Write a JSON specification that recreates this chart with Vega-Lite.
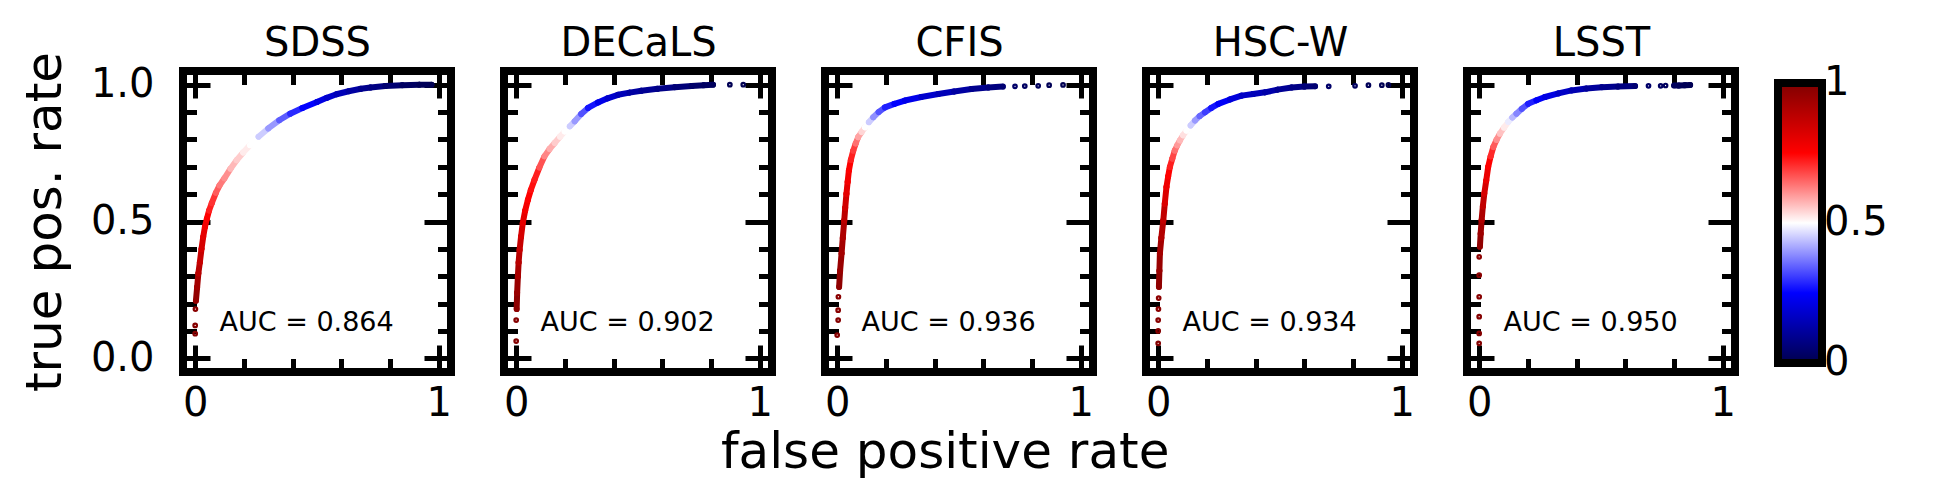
{
  "$schema": "https://vega.github.io/schema/vega-lite/v6.json",
  "background": "white",
  "padding": {"left": 16, "top": 19, "right": 5, "bottom": 5},
  "datasets": {
    "roc": [
      {"s":"SDSS","r":0,"x":0.0,"y":0.09,"t":0.995},
      {"s":"SDSS","r":0,"x":0.0,"y":0.12,"t":0.99},
      {"s":"SDSS","r":0,"x":0.001,"y":0.18,"t":0.98},
      {"s":"SDSS","r":1,"x":0.003,"y":0.21,"t":0.96},
      {"s":"SDSS","r":1,"x":0.008,"y":0.26,"t":0.93},
      {"s":"SDSS","r":1,"x":0.013,"y":0.31,"t":0.89},
      {"s":"SDSS","r":1,"x":0.019,"y":0.35,"t":0.86},
      {"s":"SDSS","r":1,"x":0.026,"y":0.40,"t":0.83},
      {"s":"SDSS","r":1,"x":0.033,"y":0.444,"t":0.80},
      {"s":"SDSS","r":1,"x":0.040,"y":0.48,"t":0.77},
      {"s":"SDSS","r":1,"x":0.048,"y":0.51,"t":0.75},
      {"s":"SDSS","r":1,"x":0.057,"y":0.54,"t":0.72},
      {"s":"SDSS","r":1,"x":0.068,"y":0.567,"t":0.70},
      {"s":"SDSS","r":1,"x":0.085,"y":0.605,"t":0.66},
      {"s":"SDSS","r":1,"x":0.10,"y":0.632,"t":0.63},
      {"s":"SDSS","r":1,"x":0.12,"y":0.658,"t":0.61},
      {"s":"SDSS","r":1,"x":0.145,"y":0.693,"t":0.57},
      {"s":"SDSS","r":1,"x":0.17,"y":0.724,"t":0.55},
      {"s":"SDSS","r":1,"x":0.197,"y":0.752,"t":0.52},
      {"s":"SDSS","r":1,"x":0.225,"y":0.779,"t":0.50},
      {"s":"SDSS","r":1,"x":0.26,"y":0.81,"t":0.45},
      {"s":"SDSS","r":1,"x":0.30,"y":0.84,"t":0.40},
      {"s":"SDSS","r":1,"x":0.345,"y":0.87,"t":0.34},
      {"s":"SDSS","r":1,"x":0.39,"y":0.894,"t":0.29},
      {"s":"SDSS","r":1,"x":0.44,"y":0.915,"t":0.25},
      {"s":"SDSS","r":1,"x":0.50,"y":0.937,"t":0.21},
      {"s":"SDSS","r":1,"x":0.54,"y":0.952,"t":0.18},
      {"s":"SDSS","r":1,"x":0.58,"y":0.965,"t":0.15},
      {"s":"SDSS","r":1,"x":0.63,"y":0.976,"t":0.12},
      {"s":"SDSS","r":1,"x":0.68,"y":0.985,"t":0.09},
      {"s":"SDSS","r":1,"x":0.72,"y":0.99,"t":0.075},
      {"s":"SDSS","r":1,"x":0.78,"y":0.995,"t":0.05},
      {"s":"SDSS","r":1,"x":0.85,"y":0.998,"t":0.03},
      {"s":"SDSS","r":1,"x":0.92,"y":1.0,"t":0.015},
      {"s":"SDSS","r":1,"x":0.97,"y":1.0,"t":0.005},

      {"s":"DECaLS","r":0,"x":0.0,"y":0.063,"t":0.995},
      {"s":"DECaLS","r":0,"x":0.0,"y":0.14,"t":0.99},
      {"s":"DECaLS","r":1,"x":0.002,"y":0.18,"t":0.975},
      {"s":"DECaLS","r":1,"x":0.004,"y":0.24,"t":0.95},
      {"s":"DECaLS","r":1,"x":0.007,"y":0.30,"t":0.92},
      {"s":"DECaLS","r":1,"x":0.010,"y":0.35,"t":0.89},
      {"s":"DECaLS","r":1,"x":0.014,"y":0.396,"t":0.86},
      {"s":"DECaLS","r":1,"x":0.020,"y":0.445,"t":0.83},
      {"s":"DECaLS","r":1,"x":0.027,"y":0.494,"t":0.80},
      {"s":"DECaLS","r":1,"x":0.037,"y":0.54,"t":0.77},
      {"s":"DECaLS","r":1,"x":0.048,"y":0.579,"t":0.75},
      {"s":"DECaLS","r":1,"x":0.060,"y":0.615,"t":0.735},
      {"s":"DECaLS","r":1,"x":0.075,"y":0.652,"t":0.72},
      {"s":"DECaLS","r":1,"x":0.095,"y":0.697,"t":0.67},
      {"s":"DECaLS","r":1,"x":0.116,"y":0.738,"t":0.62},
      {"s":"DECaLS","r":1,"x":0.137,"y":0.765,"t":0.58},
      {"s":"DECaLS","r":1,"x":0.158,"y":0.787,"t":0.55},
      {"s":"DECaLS","r":1,"x":0.18,"y":0.81,"t":0.52},
      {"s":"DECaLS","r":1,"x":0.199,"y":0.829,"t":0.50},
      {"s":"DECaLS","r":1,"x":0.22,"y":0.848,"t":0.45},
      {"s":"DECaLS","r":1,"x":0.24,"y":0.866,"t":0.40},
      {"s":"DECaLS","r":1,"x":0.267,"y":0.893,"t":0.33},
      {"s":"DECaLS","r":1,"x":0.295,"y":0.915,"t":0.27},
      {"s":"DECaLS","r":1,"x":0.336,"y":0.935,"t":0.22},
      {"s":"DECaLS","r":1,"x":0.375,"y":0.95,"t":0.18},
      {"s":"DECaLS","r":1,"x":0.418,"y":0.963,"t":0.15},
      {"s":"DECaLS","r":1,"x":0.465,"y":0.971,"t":0.12},
      {"s":"DECaLS","r":1,"x":0.514,"y":0.978,"t":0.10},
      {"s":"DECaLS","r":1,"x":0.58,"y":0.985,"t":0.08},
      {"s":"DECaLS","r":1,"x":0.651,"y":0.991,"t":0.06},
      {"s":"DECaLS","r":1,"x":0.72,"y":0.995,"t":0.04},
      {"s":"DECaLS","r":1,"x":0.77,"y":0.998,"t":0.03},
      {"s":"DECaLS","r":1,"x":0.808,"y":1.0,"t":0.02},
      {"s":"DECaLS","r":0,"x":0.877,"y":1.0,"t":0.01},
      {"s":"DECaLS","r":0,"x":0.932,"y":1.0,"t":0.005},

      {"s":"CFIS","r":0,"x":0.0,"y":0.085,"t":0.995},
      {"s":"CFIS","r":0,"x":0.004,"y":0.14,"t":0.99},
      {"s":"CFIS","r":0,"x":0.004,"y":0.176,"t":0.985},
      {"s":"CFIS","r":0,"x":0.005,"y":0.225,"t":0.98},
      {"s":"CFIS","r":1,"x":0.008,"y":0.261,"t":0.97},
      {"s":"CFIS","r":1,"x":0.012,"y":0.32,"t":0.95},
      {"s":"CFIS","r":1,"x":0.018,"y":0.383,"t":0.93},
      {"s":"CFIS","r":1,"x":0.023,"y":0.44,"t":0.91},
      {"s":"CFIS","r":1,"x":0.029,"y":0.504,"t":0.88},
      {"s":"CFIS","r":1,"x":0.033,"y":0.55,"t":0.84},
      {"s":"CFIS","r":1,"x":0.038,"y":0.601,"t":0.80},
      {"s":"CFIS","r":1,"x":0.043,"y":0.645,"t":0.77},
      {"s":"CFIS","r":1,"x":0.048,"y":0.686,"t":0.75},
      {"s":"CFIS","r":1,"x":0.056,"y":0.725,"t":0.72},
      {"s":"CFIS","r":1,"x":0.066,"y":0.759,"t":0.69},
      {"s":"CFIS","r":1,"x":0.076,"y":0.785,"t":0.64},
      {"s":"CFIS","r":1,"x":0.086,"y":0.808,"t":0.59},
      {"s":"CFIS","r":1,"x":0.10,"y":0.827,"t":0.54},
      {"s":"CFIS","r":1,"x":0.114,"y":0.844,"t":0.50},
      {"s":"CFIS","r":1,"x":0.13,"y":0.863,"t":0.45},
      {"s":"CFIS","r":1,"x":0.148,"y":0.881,"t":0.39},
      {"s":"CFIS","r":1,"x":0.17,"y":0.90,"t":0.33},
      {"s":"CFIS","r":1,"x":0.196,"y":0.917,"t":0.28},
      {"s":"CFIS","r":1,"x":0.235,"y":0.93,"t":0.25},
      {"s":"CFIS","r":1,"x":0.278,"y":0.942,"t":0.22},
      {"s":"CFIS","r":1,"x":0.345,"y":0.955,"t":0.18},
      {"s":"CFIS","r":1,"x":0.415,"y":0.966,"t":0.15},
      {"s":"CFIS","r":1,"x":0.48,"y":0.975,"t":0.12},
      {"s":"CFIS","r":1,"x":0.551,"y":0.984,"t":0.09},
      {"s":"CFIS","r":1,"x":0.62,"y":0.99,"t":0.07},
      {"s":"CFIS","r":1,"x":0.68,"y":0.993,"t":0.05},
      {"s":"CFIS","r":0,"x":0.73,"y":0.994,"t":0.04},
      {"s":"CFIS","r":0,"x":0.77,"y":0.995,"t":0.03},
      {"s":"CFIS","r":0,"x":0.825,"y":0.996,"t":0.02},
      {"s":"CFIS","r":0,"x":0.87,"y":0.998,"t":0.012},
      {"s":"CFIS","r":0,"x":0.927,"y":0.999,"t":0.005},

      {"s":"HSC-W","r":0,"x":0.0,"y":0.055,"t":0.995},
      {"s":"HSC-W","r":0,"x":0.0,"y":0.10,"t":0.99},
      {"s":"HSC-W","r":0,"x":0.0,"y":0.14,"t":0.985},
      {"s":"HSC-W","r":0,"x":0.001,"y":0.18,"t":0.98},
      {"s":"HSC-W","r":0,"x":0.002,"y":0.22,"t":0.975},
      {"s":"HSC-W","r":1,"x":0.003,"y":0.261,"t":0.97},
      {"s":"HSC-W","r":1,"x":0.005,"y":0.32,"t":0.95},
      {"s":"HSC-W","r":1,"x":0.007,"y":0.383,"t":0.93},
      {"s":"HSC-W","r":1,"x":0.013,"y":0.44,"t":0.90},
      {"s":"HSC-W","r":1,"x":0.021,"y":0.504,"t":0.87},
      {"s":"HSC-W","r":1,"x":0.027,"y":0.565,"t":0.82},
      {"s":"HSC-W","r":1,"x":0.034,"y":0.626,"t":0.78},
      {"s":"HSC-W","r":1,"x":0.041,"y":0.665,"t":0.75},
      {"s":"HSC-W","r":1,"x":0.048,"y":0.699,"t":0.72},
      {"s":"HSC-W","r":1,"x":0.058,"y":0.73,"t":0.68},
      {"s":"HSC-W","r":1,"x":0.068,"y":0.759,"t":0.64},
      {"s":"HSC-W","r":1,"x":0.078,"y":0.778,"t":0.60},
      {"s":"HSC-W","r":1,"x":0.089,"y":0.796,"t":0.57},
      {"s":"HSC-W","r":1,"x":0.102,"y":0.815,"t":0.53},
      {"s":"HSC-W","r":1,"x":0.116,"y":0.832,"t":0.50},
      {"s":"HSC-W","r":1,"x":0.133,"y":0.851,"t":0.45},
      {"s":"HSC-W","r":1,"x":0.151,"y":0.869,"t":0.40},
      {"s":"HSC-W","r":1,"x":0.17,"y":0.885,"t":0.35},
      {"s":"HSC-W","r":1,"x":0.192,"y":0.899,"t":0.31},
      {"s":"HSC-W","r":1,"x":0.218,"y":0.915,"t":0.27},
      {"s":"HSC-W","r":1,"x":0.247,"y":0.93,"t":0.24},
      {"s":"HSC-W","r":1,"x":0.295,"y":0.946,"t":0.20},
      {"s":"HSC-W","r":1,"x":0.342,"y":0.96,"t":0.17},
      {"s":"HSC-W","r":1,"x":0.39,"y":0.966,"t":0.15},
      {"s":"HSC-W","r":1,"x":0.438,"y":0.972,"t":0.13},
      {"s":"HSC-W","r":1,"x":0.49,"y":0.982,"t":0.10},
      {"s":"HSC-W","r":1,"x":0.548,"y":0.99,"t":0.08},
      {"s":"HSC-W","r":1,"x":0.60,"y":0.993,"t":0.06},
      {"s":"HSC-W","r":1,"x":0.644,"y":0.994,"t":0.05},
      {"s":"HSC-W","r":0,"x":0.70,"y":0.994,"t":0.04},
      {"s":"HSC-W","r":0,"x":0.808,"y":0.996,"t":0.025},
      {"s":"HSC-W","r":0,"x":0.863,"y":0.998,"t":0.015},
      {"s":"HSC-W","r":0,"x":0.918,"y":0.998,"t":0.01},
      {"s":"HSC-W","r":0,"x":0.945,"y":0.999,"t":0.005},

      {"s":"LSST","r":0,"x":0.0,"y":0.055,"t":0.995},
      {"s":"LSST","r":0,"x":0.0,"y":0.091,"t":0.993},
      {"s":"LSST","r":0,"x":0.0,"y":0.152,"t":0.99},
      {"s":"LSST","r":0,"x":0.0,"y":0.225,"t":0.985},
      {"s":"LSST","r":0,"x":0.0,"y":0.304,"t":0.98},
      {"s":"LSST","r":0,"x":0.0,"y":0.371,"t":0.975},
      {"s":"LSST","r":1,"x":0.003,"y":0.408,"t":0.965},
      {"s":"LSST","r":1,"x":0.006,"y":0.455,"t":0.94},
      {"s":"LSST","r":1,"x":0.010,"y":0.505,"t":0.91},
      {"s":"LSST","r":1,"x":0.015,"y":0.555,"t":0.87},
      {"s":"LSST","r":1,"x":0.021,"y":0.602,"t":0.83},
      {"s":"LSST","r":1,"x":0.029,"y":0.65,"t":0.79},
      {"s":"LSST","r":1,"x":0.037,"y":0.70,"t":0.75},
      {"s":"LSST","r":1,"x":0.047,"y":0.738,"t":0.71},
      {"s":"LSST","r":1,"x":0.058,"y":0.772,"t":0.66},
      {"s":"LSST","r":1,"x":0.071,"y":0.798,"t":0.61},
      {"s":"LSST","r":1,"x":0.085,"y":0.821,"t":0.56},
      {"s":"LSST","r":1,"x":0.102,"y":0.843,"t":0.52},
      {"s":"LSST","r":1,"x":0.119,"y":0.864,"t":0.48},
      {"s":"LSST","r":1,"x":0.136,"y":0.88,"t":0.43},
      {"s":"LSST","r":1,"x":0.153,"y":0.894,"t":0.38},
      {"s":"LSST","r":1,"x":0.175,"y":0.912,"t":0.33},
      {"s":"LSST","r":1,"x":0.201,"y":0.93,"t":0.28},
      {"s":"LSST","r":1,"x":0.235,"y":0.943,"t":0.24},
      {"s":"LSST","r":1,"x":0.27,"y":0.955,"t":0.21},
      {"s":"LSST","r":1,"x":0.325,"y":0.968,"t":0.17},
      {"s":"LSST","r":1,"x":0.379,"y":0.979,"t":0.14},
      {"s":"LSST","r":1,"x":0.44,"y":0.986,"t":0.11},
      {"s":"LSST","r":1,"x":0.503,"y":0.991,"t":0.09},
      {"s":"LSST","r":1,"x":0.57,"y":0.993,"t":0.07},
      {"s":"LSST","r":1,"x":0.64,"y":0.995,"t":0.05},
      {"s":"LSST","r":0,"x":0.695,"y":0.996,"t":0.04},
      {"s":"LSST","r":0,"x":0.745,"y":0.996,"t":0.03},
      {"s":"LSST","r":0,"x":0.765,"y":0.997,"t":0.025},
      {"s":"LSST","r":2,"x":0.80,"y":0.997,"t":0.02},
      {"s":"LSST","r":2,"x":0.82,"y":0.997,"t":0.017},
      {"s":"LSST","r":2,"x":0.845,"y":0.998,"t":0.013},
      {"s":"LSST","r":2,"x":0.866,"y":0.999,"t":0.01}
    ],
    "auc": [
      {"s":"SDSS","auc":0.864},
      {"s":"DECaLS","auc":0.902},
      {"s":"CFIS","auc":0.936},
      {"s":"HSC-W","auc":0.934},
      {"s":"LSST","auc":0.950}
    ]
  },
  "title": {"text": "false positive rate", "orient": "bottom", "anchor": "middle", "frame": "bounds", "dx": -7, "fontSize": 50, "fontWeight": "normal", "font": "DejaVu Sans", "color": "black", "offset": 1},
  "hconcat": [
    {
      "width": 268, "height": 301,
      "resolve": {"axis": {"x": "independent", "y": "independent"}},
      "layer": [
        {
          "data": {"name": "roc"},
          "transform": [
            {"filter": "datum.s == 'SDSS' && datum.r > 0"},
            {"window": [{"op": "lead", "field": "x", "as": "x2"}, {"op": "lead", "field": "y", "as": "y2"}], "sort": [{"field": "t", "order": "descending"}], "groupby": ["r"]},
            {"filter": "isValid(datum.x2)"}
          ],
          "mark": {"type": "rule", "strokeWidth": 6, "strokeCap": "round"},
          "encoding": {
            "x": {"field": "x", "type": "quantitative", "scale": {"domain": [-0.05, 1.05], "nice": false, "zero": false},
                  "axis": {"orient": "bottom", "title": null, "values": [0, 0.2, 0.4, 0.6, 0.8, 1], "format": "~g", "labelExpr": "datum.value == 0 || datum.value == 1 ? datum.label : ''", "tickSize": {"condition": {"test": "datum.value == 0 || datum.value == 1", "value": -27}, "value": -13.5}, "labelPadding": 38}},
            "y": {"field": "y", "type": "quantitative", "scale": {"domain": [-0.05, 1.05], "nice": false, "zero": false},
                  "axis": {"orient": "left", "title": "true pos. rate", "values": [0, 0.1, 0.2, 0.3, 0.4, 0.5, 0.6, 0.7, 0.8, 0.9, 1], "labelExpr": "datum.value == 0 || datum.value == 0.5 || datum.value == 1 ? format(datum.value, '.1f') : ''", "tickSize": {"condition": {"test": "datum.value == 0 || datum.value == 0.5 || datum.value == 1", "value": -27}, "value": -13.5}, "labelPadding": 56, "titlePadding": 20}},
            "x2": {"field": "x2"}, "y2": {"field": "y2"},
            "color": {"field": "t", "type": "quantitative", "scale": {"domain": [0, 0.25, 0.5, 0.75, 1], "range": ["#00004d", "#0000ff", "#ffffff", "#ff0000", "#800000"], "interpolate": "rgb"}, "legend": {"type": "gradient", "title": null, "values": [0, 0.5, 1], "format": "~g", "encode": {"labels": {"update": {"baseline": {"value": "middle"}}}}}}
          }
        },
        {
          "data": {"name": "roc"},
          "transform": [{"filter": "datum.s == 'SDSS'"}],
          "mark": {"type": "point", "filled": false, "shape": "circle", "size": 5, "strokeWidth": 3.5, "opacity": 1},
          "encoding": {
            "x": {"field": "x", "type": "quantitative", "axis": {"orient": "top", "title": "SDSS", "labels": false, "values": [0, 0.2, 0.4, 0.6, 0.8, 1], "tickSize": {"condition": {"test": "datum.value == 0 || datum.value == 1", "value": -27}, "value": -13.5}}},
            "y": {"field": "y", "type": "quantitative", "axis": {"orient": "right", "title": null, "labels": false, "values": [0, 0.1, 0.2, 0.3, 0.4, 0.5, 0.6, 0.7, 0.8, 0.9, 1], "tickSize": {"condition": {"test": "datum.value == 0 || datum.value == 0.5 || datum.value == 1", "value": -27}, "value": -13.5}}},
            "color": {"field": "t", "type": "quantitative", "legend": {"type": "gradient", "title": null, "values": [0, 0.5, 1], "format": "~g", "encode": {"labels": {"update": {"baseline": {"value": "middle"}}}}}}
          }
        },
        {
          "data": {"name": "auc"},
          "transform": [{"filter": "datum.s == 'SDSS'"}, {"calculate": "'AUC = ' + format(datum.auc, '.3f')", "as": "label"}],
          "mark": {"type": "text", "align": "left", "baseline": "alphabetic", "fontSize": 27, "font": "DejaVu Sans", "color": "black"},
          "encoding": {
            "x": {"datum": 0.1, "type": "quantitative", "axis": null},
            "y": {"datum": 0.1, "type": "quantitative", "axis": null},
            "text": {"field": "label"}
          }
        }
      ]
    },
    {
      "width": 268, "height": 301,
      "resolve": {"axis": {"x": "independent", "y": "independent"}},
      "layer": [
        {
          "data": {"name": "roc"},
          "transform": [
            {"filter": "datum.s == 'DECaLS' && datum.r > 0"},
            {"window": [{"op": "lead", "field": "x", "as": "x2"}, {"op": "lead", "field": "y", "as": "y2"}], "sort": [{"field": "t", "order": "descending"}], "groupby": ["r"]},
            {"filter": "isValid(datum.x2)"}
          ],
          "mark": {"type": "rule", "strokeWidth": 6, "strokeCap": "round"},
          "encoding": {
            "x": {"field": "x", "type": "quantitative", "scale": {"domain": [-0.05, 1.05], "nice": false, "zero": false},
                  "axis": {"orient": "bottom", "title": null, "values": [0, 0.2, 0.4, 0.6, 0.8, 1], "format": "~g", "labelExpr": "datum.value == 0 || datum.value == 1 ? datum.label : ''", "tickSize": {"condition": {"test": "datum.value == 0 || datum.value == 1", "value": -27}, "value": -13.5}, "labelPadding": 38}},
            "y": {"field": "y", "type": "quantitative", "scale": {"domain": [-0.05, 1.05], "nice": false, "zero": false},
                  "axis": {"orient": "left", "title": null, "labels": false, "values": [0, 0.1, 0.2, 0.3, 0.4, 0.5, 0.6, 0.7, 0.8, 0.9, 1], "tickSize": {"condition": {"test": "datum.value == 0 || datum.value == 0.5 || datum.value == 1", "value": -27}, "value": -13.5}}},
            "x2": {"field": "x2"}, "y2": {"field": "y2"},
            "color": {"field": "t", "type": "quantitative", "legend": {"type": "gradient", "title": null, "values": [0, 0.5, 1], "format": "~g", "encode": {"labels": {"update": {"baseline": {"value": "middle"}}}}}}
          }
        },
        {
          "data": {"name": "roc"},
          "transform": [{"filter": "datum.s == 'DECaLS'"}],
          "mark": {"type": "point", "filled": false, "shape": "circle", "size": 5, "strokeWidth": 3.5, "opacity": 1},
          "encoding": {
            "x": {"field": "x", "type": "quantitative", "axis": {"orient": "top", "title": "DECaLS", "labels": false, "values": [0, 0.2, 0.4, 0.6, 0.8, 1], "tickSize": {"condition": {"test": "datum.value == 0 || datum.value == 1", "value": -27}, "value": -13.5}}},
            "y": {"field": "y", "type": "quantitative", "axis": {"orient": "right", "title": null, "labels": false, "values": [0, 0.1, 0.2, 0.3, 0.4, 0.5, 0.6, 0.7, 0.8, 0.9, 1], "tickSize": {"condition": {"test": "datum.value == 0 || datum.value == 0.5 || datum.value == 1", "value": -27}, "value": -13.5}}},
            "color": {"field": "t", "type": "quantitative", "legend": {"type": "gradient", "title": null, "values": [0, 0.5, 1], "format": "~g", "encode": {"labels": {"update": {"baseline": {"value": "middle"}}}}}}
          }
        },
        {
          "data": {"name": "auc"},
          "transform": [{"filter": "datum.s == 'DECaLS'"}, {"calculate": "'AUC = ' + format(datum.auc, '.3f')", "as": "label"}],
          "mark": {"type": "text", "align": "left", "baseline": "alphabetic", "fontSize": 27, "font": "DejaVu Sans", "color": "black"},
          "encoding": {
            "x": {"datum": 0.1, "type": "quantitative", "axis": null},
            "y": {"datum": 0.1, "type": "quantitative", "axis": null},
            "text": {"field": "label"}
          }
        }
      ]
    },
    {
      "width": 268, "height": 301,
      "resolve": {"axis": {"x": "independent", "y": "independent"}},
      "layer": [
        {
          "data": {"name": "roc"},
          "transform": [
            {"filter": "datum.s == 'CFIS' && datum.r > 0"},
            {"window": [{"op": "lead", "field": "x", "as": "x2"}, {"op": "lead", "field": "y", "as": "y2"}], "sort": [{"field": "t", "order": "descending"}], "groupby": ["r"]},
            {"filter": "isValid(datum.x2)"}
          ],
          "mark": {"type": "rule", "strokeWidth": 6, "strokeCap": "round"},
          "encoding": {
            "x": {"field": "x", "type": "quantitative", "scale": {"domain": [-0.05, 1.05], "nice": false, "zero": false},
                  "axis": {"orient": "bottom", "title": null, "values": [0, 0.2, 0.4, 0.6, 0.8, 1], "format": "~g", "labelExpr": "datum.value == 0 || datum.value == 1 ? datum.label : ''", "tickSize": {"condition": {"test": "datum.value == 0 || datum.value == 1", "value": -27}, "value": -13.5}, "labelPadding": 38}},
            "y": {"field": "y", "type": "quantitative", "scale": {"domain": [-0.05, 1.05], "nice": false, "zero": false},
                  "axis": {"orient": "left", "title": null, "labels": false, "values": [0, 0.1, 0.2, 0.3, 0.4, 0.5, 0.6, 0.7, 0.8, 0.9, 1], "tickSize": {"condition": {"test": "datum.value == 0 || datum.value == 0.5 || datum.value == 1", "value": -27}, "value": -13.5}}},
            "x2": {"field": "x2"}, "y2": {"field": "y2"},
            "color": {"field": "t", "type": "quantitative", "legend": {"type": "gradient", "title": null, "values": [0, 0.5, 1], "format": "~g", "encode": {"labels": {"update": {"baseline": {"value": "middle"}}}}}}
          }
        },
        {
          "data": {"name": "roc"},
          "transform": [{"filter": "datum.s == 'CFIS'"}],
          "mark": {"type": "point", "filled": false, "shape": "circle", "size": 5, "strokeWidth": 3.5, "opacity": 1},
          "encoding": {
            "x": {"field": "x", "type": "quantitative", "axis": {"orient": "top", "title": "CFIS", "labels": false, "values": [0, 0.2, 0.4, 0.6, 0.8, 1], "tickSize": {"condition": {"test": "datum.value == 0 || datum.value == 1", "value": -27}, "value": -13.5}}},
            "y": {"field": "y", "type": "quantitative", "axis": {"orient": "right", "title": null, "labels": false, "values": [0, 0.1, 0.2, 0.3, 0.4, 0.5, 0.6, 0.7, 0.8, 0.9, 1], "tickSize": {"condition": {"test": "datum.value == 0 || datum.value == 0.5 || datum.value == 1", "value": -27}, "value": -13.5}}},
            "color": {"field": "t", "type": "quantitative", "legend": {"type": "gradient", "title": null, "values": [0, 0.5, 1], "format": "~g", "encode": {"labels": {"update": {"baseline": {"value": "middle"}}}}}}
          }
        },
        {
          "data": {"name": "auc"},
          "transform": [{"filter": "datum.s == 'CFIS'"}, {"calculate": "'AUC = ' + format(datum.auc, '.3f')", "as": "label"}],
          "mark": {"type": "text", "align": "left", "baseline": "alphabetic", "fontSize": 27, "font": "DejaVu Sans", "color": "black"},
          "encoding": {
            "x": {"datum": 0.1, "type": "quantitative", "axis": null},
            "y": {"datum": 0.1, "type": "quantitative", "axis": null},
            "text": {"field": "label"}
          }
        }
      ]
    },
    {
      "width": 268, "height": 301,
      "resolve": {"axis": {"x": "independent", "y": "independent"}},
      "layer": [
        {
          "data": {"name": "roc"},
          "transform": [
            {"filter": "datum.s == 'HSC-W' && datum.r > 0"},
            {"window": [{"op": "lead", "field": "x", "as": "x2"}, {"op": "lead", "field": "y", "as": "y2"}], "sort": [{"field": "t", "order": "descending"}], "groupby": ["r"]},
            {"filter": "isValid(datum.x2)"}
          ],
          "mark": {"type": "rule", "strokeWidth": 6, "strokeCap": "round"},
          "encoding": {
            "x": {"field": "x", "type": "quantitative", "scale": {"domain": [-0.05, 1.05], "nice": false, "zero": false},
                  "axis": {"orient": "bottom", "title": null, "values": [0, 0.2, 0.4, 0.6, 0.8, 1], "format": "~g", "labelExpr": "datum.value == 0 || datum.value == 1 ? datum.label : ''", "tickSize": {"condition": {"test": "datum.value == 0 || datum.value == 1", "value": -27}, "value": -13.5}, "labelPadding": 38}},
            "y": {"field": "y", "type": "quantitative", "scale": {"domain": [-0.05, 1.05], "nice": false, "zero": false},
                  "axis": {"orient": "left", "title": null, "labels": false, "values": [0, 0.1, 0.2, 0.3, 0.4, 0.5, 0.6, 0.7, 0.8, 0.9, 1], "tickSize": {"condition": {"test": "datum.value == 0 || datum.value == 0.5 || datum.value == 1", "value": -27}, "value": -13.5}}},
            "x2": {"field": "x2"}, "y2": {"field": "y2"},
            "color": {"field": "t", "type": "quantitative", "legend": {"type": "gradient", "title": null, "values": [0, 0.5, 1], "format": "~g", "encode": {"labels": {"update": {"baseline": {"value": "middle"}}}}}}
          }
        },
        {
          "data": {"name": "roc"},
          "transform": [{"filter": "datum.s == 'HSC-W'"}],
          "mark": {"type": "point", "filled": false, "shape": "circle", "size": 5, "strokeWidth": 3.5, "opacity": 1},
          "encoding": {
            "x": {"field": "x", "type": "quantitative", "axis": {"orient": "top", "title": "HSC-W", "labels": false, "values": [0, 0.2, 0.4, 0.6, 0.8, 1], "tickSize": {"condition": {"test": "datum.value == 0 || datum.value == 1", "value": -27}, "value": -13.5}}},
            "y": {"field": "y", "type": "quantitative", "axis": {"orient": "right", "title": null, "labels": false, "values": [0, 0.1, 0.2, 0.3, 0.4, 0.5, 0.6, 0.7, 0.8, 0.9, 1], "tickSize": {"condition": {"test": "datum.value == 0 || datum.value == 0.5 || datum.value == 1", "value": -27}, "value": -13.5}}},
            "color": {"field": "t", "type": "quantitative", "legend": {"type": "gradient", "title": null, "values": [0, 0.5, 1], "format": "~g", "encode": {"labels": {"update": {"baseline": {"value": "middle"}}}}}}
          }
        },
        {
          "data": {"name": "auc"},
          "transform": [{"filter": "datum.s == 'HSC-W'"}, {"calculate": "'AUC = ' + format(datum.auc, '.3f')", "as": "label"}],
          "mark": {"type": "text", "align": "left", "baseline": "alphabetic", "fontSize": 27, "font": "DejaVu Sans", "color": "black"},
          "encoding": {
            "x": {"datum": 0.1, "type": "quantitative", "axis": null},
            "y": {"datum": 0.1, "type": "quantitative", "axis": null},
            "text": {"field": "label"}
          }
        }
      ]
    },
    {
      "width": 268, "height": 301,
      "resolve": {"axis": {"x": "independent", "y": "independent"}},
      "layer": [
        {
          "data": {"name": "roc"},
          "transform": [
            {"filter": "datum.s == 'LSST' && datum.r > 0"},
            {"window": [{"op": "lead", "field": "x", "as": "x2"}, {"op": "lead", "field": "y", "as": "y2"}], "sort": [{"field": "t", "order": "descending"}], "groupby": ["r"]},
            {"filter": "isValid(datum.x2)"}
          ],
          "mark": {"type": "rule", "strokeWidth": 6, "strokeCap": "round"},
          "encoding": {
            "x": {"field": "x", "type": "quantitative", "scale": {"domain": [-0.05, 1.05], "nice": false, "zero": false},
                  "axis": {"orient": "bottom", "title": null, "values": [0, 0.2, 0.4, 0.6, 0.8, 1], "format": "~g", "labelExpr": "datum.value == 0 || datum.value == 1 ? datum.label : ''", "tickSize": {"condition": {"test": "datum.value == 0 || datum.value == 1", "value": -27}, "value": -13.5}, "labelPadding": 38}},
            "y": {"field": "y", "type": "quantitative", "scale": {"domain": [-0.05, 1.05], "nice": false, "zero": false},
                  "axis": {"orient": "left", "title": null, "labels": false, "values": [0, 0.1, 0.2, 0.3, 0.4, 0.5, 0.6, 0.7, 0.8, 0.9, 1], "tickSize": {"condition": {"test": "datum.value == 0 || datum.value == 0.5 || datum.value == 1", "value": -27}, "value": -13.5}}},
            "x2": {"field": "x2"}, "y2": {"field": "y2"},
            "color": {"field": "t", "type": "quantitative", "legend": {"type": "gradient", "title": null, "values": [0, 0.5, 1], "format": "~g", "encode": {"labels": {"update": {"baseline": {"value": "middle"}}}}}}
          }
        },
        {
          "data": {"name": "roc"},
          "transform": [{"filter": "datum.s == 'LSST'"}],
          "mark": {"type": "point", "filled": false, "shape": "circle", "size": 5, "strokeWidth": 3.5, "opacity": 1},
          "encoding": {
            "x": {"field": "x", "type": "quantitative", "axis": {"orient": "top", "title": "LSST", "labels": false, "values": [0, 0.2, 0.4, 0.6, 0.8, 1], "tickSize": {"condition": {"test": "datum.value == 0 || datum.value == 1", "value": -27}, "value": -13.5}}},
            "y": {"field": "y", "type": "quantitative", "axis": {"orient": "right", "title": null, "labels": false, "values": [0, 0.1, 0.2, 0.3, 0.4, 0.5, 0.6, 0.7, 0.8, 0.9, 1], "tickSize": {"condition": {"test": "datum.value == 0 || datum.value == 0.5 || datum.value == 1", "value": -27}, "value": -13.5}}},
            "color": {"field": "t", "type": "quantitative", "legend": {"type": "gradient", "title": null, "values": [0, 0.5, 1], "format": "~g", "encode": {"labels": {"update": {"baseline": {"value": "middle"}}}}}}
          }
        },
        {
          "data": {"name": "auc"},
          "transform": [{"filter": "datum.s == 'LSST'"}, {"calculate": "'AUC = ' + format(datum.auc, '.3f')", "as": "label"}],
          "mark": {"type": "text", "align": "left", "baseline": "alphabetic", "fontSize": 27, "font": "DejaVu Sans", "color": "black"},
          "encoding": {
            "x": {"datum": 0.1, "type": "quantitative", "axis": null},
            "y": {"datum": 0.1, "type": "quantitative", "axis": null},
            "text": {"field": "label"}
          }
        }
      ]
    }
  ],
  "spacing": 53,
  "bounds": "flush",
  "config": {
    "font": "DejaVu Sans",
    "view": {"stroke": "black", "strokeWidth": 8},
    "axis": {"domain": false, "grid": false, "tickColor": "black", "tickWidth": 5, "labelFontSize": 40, "labelColor": "black", "labelFont": "DejaVu Sans", "titleFontSize": 50, "titleFontWeight": "normal", "titleColor": "black", "titleFont": "DejaVu Sans"},
    "axisTop": {"titleFontSize": 40, "titleBaseline": "alphabetic", "titlePadding": 13.5},
    "legend": {"orient": "none", "legendX": 1595, "legendY": 12, "padding": 0, "gradientLength": 280, "gradientThickness": 44, "gradientStrokeColor": "black", "gradientStrokeWidth": 8, "labelFontSize": 40, "labelFont": "DejaVu Sans", "labelColor": "black", "labelOffset": 26, "labelBaseline": "middle"}
  }
}
